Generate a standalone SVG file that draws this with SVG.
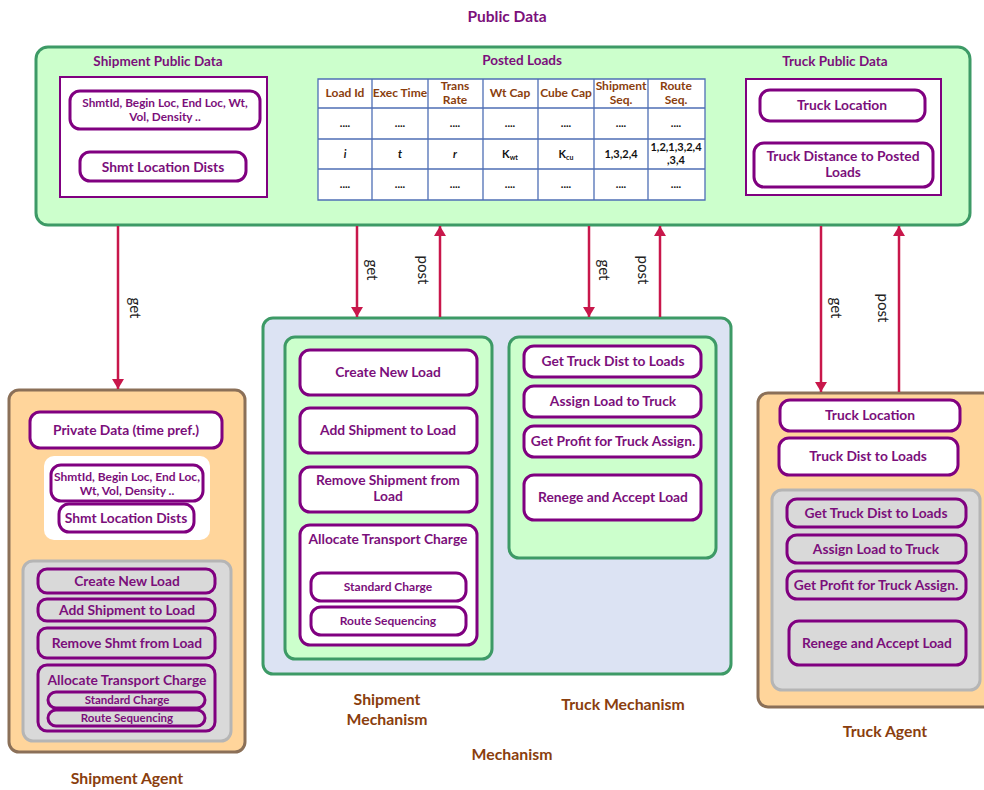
<svg xmlns="http://www.w3.org/2000/svg" width="984" height="790" viewBox="0 0 984 790">
  <defs>
    <marker id="ah" viewBox="0 0 10 12" refX="10" refY="6" markerWidth="10" markerHeight="12" markerUnits="userSpaceOnUse" orient="auto">
      <path d="M0,0 L10,6 L0,12 Z" fill="#c8174b"/>
    </marker>
    <style>
      text { font-family: Lato, "Liberation Sans", sans-serif; font-weight: bold; text-anchor: middle; }
      .t { fill: #7b0f7b; font-size: 13.8px; }
      .ts { fill: #7b0f7b; font-size: 11.8px; }
      .sm { fill: #7b0f7b; font-size: 12px; }
      .tx { fill: #7b0f7b; font-size: 11.5px; }
      .hd { fill: #7b0f7b; font-size: 13.5px; }
      .cap { fill: #8a3e0e; font-size: 15.8px; }
      .th { fill: #8a3e0e; font-size: 12px; }
      .td { fill: #111; font-size: 11px; }
      .lbl { fill: #222; font-size: 15px; font-weight: normal; }
      .pb { fill: #fff; stroke: #800080; stroke-width: 3; }
      .pg { fill: #d9d9d9; stroke: #800080; stroke-width: 3; }
      .gz { fill: #ccffcc; stroke: #3d9a66; stroke-width: 3; }
      .gray { fill: #d9d9d9; stroke: #b5b5b5; stroke-width: 3; }
      .agent { fill: #ffd59b; stroke: #8b7058; stroke-width: 3; }
      .wbox { fill: #fff; stroke: #800080; stroke-width: 2; }
      .grid { stroke: #4f6fb5; stroke-width: 1.3; fill: none; }
      .arr { stroke: #c8174b; stroke-width: 2.5; fill: none; marker-end: url(#ah); }
    </style>
  </defs>

  <rect width="984" height="790" fill="#fff"/>

  <!-- Public data area -->
  <g id="public-data">
    <text x="507" y="22" class="hd" style="font-size:15.5px">Public Data</text>
    <rect x="36" y="47" width="934" height="178" rx="12" class="gz"/>
  </g>

  <g id="shipment-public-data">
    <text x="158" y="66" class="hd">Shipment Public Data</text>
    <rect x="60" y="77" width="207" height="120" class="wbox"/>
    <rect x="70" y="91" width="190" height="38" rx="10" class="pb"/>
    <text x="165" y="107" class="ts">ShmtId, Begin Loc, End Loc, Wt,</text>
    <text x="165" y="121" class="ts">Vol, Density ..</text>
    <rect x="80" y="152" width="166" height="29" rx="10" class="pb"/>
    <text x="163" y="172" class="t">Shmt Location Dists</text>
  </g>

  <g id="posted-loads">
    <text x="522" y="65" class="hd">Posted Loads</text>
    <rect x="318" y="79" width="387" height="121" fill="#fff"/>
    <path class="grid" d="M318,79H705V200H318Z M318,108H705 M318,139H705 M318,169H705 M372,79V200 M428,79V200 M483,79V200 M538,79V200 M594,79V200 M648,79V200"/>
    <text x="345" y="97" class="th">Load Id</text>
    <text x="400" y="97" class="th">Exec Time</text>
    <text x="455" y="90" class="th">Trans</text>
    <text x="455" y="104" class="th">Rate</text>
    <text x="510" y="97" class="th">Wt Cap</text>
    <text x="566" y="97" class="th">Cube Cap</text>
    <text x="621" y="90" class="th">Shipment</text>
    <text x="621" y="104" class="th">Seq.</text>
    <text x="676" y="90" class="th">Route</text>
    <text x="676" y="104" class="th">Seq.</text>
    <text x="345" y="127" class="td">....</text>
    <text x="400" y="127" class="td">....</text>
    <text x="455" y="127" class="td">....</text>
    <text x="510" y="127" class="td">....</text>
    <text x="566" y="127" class="td">....</text>
    <text x="621" y="127" class="td">....</text>
    <text x="676" y="127" class="td">....</text>
    <text x="345" y="158" class="td" font-style="italic">i</text>
    <text x="400" y="158" class="td" font-style="italic">t</text>
    <text x="455" y="158" class="td" font-style="italic">r</text>
    <text x="510" y="158" class="td">K<tspan font-size="7" dy="2">wt</tspan></text>
    <text x="566" y="158" class="td">K<tspan font-size="7" dy="2">cu</tspan></text>
    <text x="621" y="158" class="td">1,3,2,4</text>
    <text x="676" y="151" class="td">1,2,1,3,2,4</text>
    <text x="676" y="164" class="td">,3,4</text>
    <text x="345" y="188" class="td">....</text>
    <text x="400" y="188" class="td">....</text>
    <text x="455" y="188" class="td">....</text>
    <text x="510" y="188" class="td">....</text>
    <text x="566" y="188" class="td">....</text>
    <text x="621" y="188" class="td">....</text>
    <text x="676" y="188" class="td">....</text>
  </g>

  <g id="truck-public-data">
    <text x="835" y="66" class="hd">Truck Public Data</text>
    <rect x="746" y="79" width="195" height="116" class="wbox"/>
    <rect x="760" y="90" width="165" height="31" rx="10" class="pb"/>
    <text x="842" y="110" class="t">Truck Location</text>
    <rect x="754" y="143" width="179" height="44" rx="10" class="pb"/>
    <text x="843" y="161" class="t">Truck Distance to Posted</text>
    <text x="843" y="177" class="t">Loads</text>
  </g>

  <!-- Mechanism area -->
  <g id="mechanism">
    <rect x="263" y="318" width="468" height="356" rx="10" fill="#dce3f3" stroke="#3d9a66" stroke-width="3"/>
    <text x="512" y="760" class="cap">Mechanism</text>
  </g>

  <g id="shipment-mechanism">
    <rect x="285" y="337" width="207" height="322" rx="10" class="gz"/>
    <rect x="300" y="350" width="177" height="45" rx="10" class="pb"/>
    <text x="388" y="377" class="t">Create New Load</text>
    <rect x="300" y="408" width="177" height="45" rx="10" class="pb"/>
    <text x="388" y="435" class="t">Add Shipment to Load</text>
    <rect x="300" y="467" width="177" height="45" rx="10" class="pb"/>
    <text x="388" y="485" class="t">Remove Shipment from</text>
    <text x="388" y="501" class="t">Load</text>
    <rect x="300" y="525" width="177" height="120" rx="10" class="pb"/>
    <text x="388" y="544" class="t">Allocate Transport Charge</text>
    <rect x="311" y="573" width="155" height="28" rx="10" class="pb"/>
    <text x="388" y="591" class="sm">Standard Charge</text>
    <rect x="311" y="607" width="155" height="28" rx="10" class="pb"/>
    <text x="388" y="625" class="sm">Route Sequencing</text>
    <text x="387" y="705" class="cap">Shipment</text>
    <text x="387" y="725" class="cap">Mechanism</text>
  </g>

  <g id="truck-mechanism">
    <rect x="509" y="337" width="207" height="221" rx="10" class="gz"/>
    <rect x="524" y="346" width="177" height="31" rx="10" class="pb"/>
    <text x="613" y="366" class="t">Get Truck Dist to Loads</text>
    <rect x="524" y="386" width="177" height="31" rx="10" class="pb"/>
    <text x="613" y="406" class="t">Assign Load to Truck</text>
    <rect x="524" y="426" width="177" height="31" rx="10" class="pb"/>
    <text x="613" y="446" class="t">Get Profit for Truck Assign.</text>
    <rect x="524" y="475" width="177" height="45" rx="10" class="pb"/>
    <text x="613" y="502" class="t">Renege and Accept Load</text>
    <text x="623" y="710" class="cap">Truck Mechanism</text>
  </g>

  <!-- Shipment agent -->
  <g id="shipment-agent">
    <rect x="9" y="390" width="236" height="362" rx="10" class="agent"/>
    <rect x="30" y="412" width="192" height="36" rx="10" class="pb"/>
    <text x="126" y="435" class="t">Private Data (time pref.)</text>
    <rect x="44" y="456" width="166" height="84" rx="10" fill="#fff"/>
    <rect x="51" y="465" width="152" height="36" rx="10" class="pb"/>
    <text x="127" y="481" class="sm">ShmtId, Begin Loc, End Loc,</text>
    <text x="127" y="495" class="sm">Wt, Vol, Density ..</text>
    <rect x="59" y="504" width="135" height="28" rx="10" class="pb"/>
    <text x="126" y="523" class="t">Shmt Location Dists</text>
    <rect x="23" y="561" width="208" height="180" rx="10" class="gray"/>
    <rect x="38" y="569" width="177" height="24" rx="9" class="pg"/>
    <text x="127" y="586" class="t">Create New Load</text>
    <rect x="38" y="599" width="177" height="22" rx="9" class="pg"/>
    <text x="127" y="615" class="t">Add Shipment to Load</text>
    <rect x="38" y="628" width="177" height="30" rx="9" class="pg"/>
    <text x="127" y="648" class="t">Remove Shmt from Load</text>
    <rect x="38" y="665" width="177" height="66" rx="9" class="pg"/>
    <text x="127" y="685" class="t">Allocate Transport Charge</text>
    <rect x="48" y="692" width="157" height="16" rx="8" class="pg"/>
    <text x="127" y="704" class="tx">Standard Charge</text>
    <rect x="48" y="710" width="157" height="16" rx="8" class="pg"/>
    <text x="127" y="722" class="tx">Route Sequencing</text>
    <text x="127" y="784" class="cap">Shipment Agent</text>
  </g>

  <!-- Truck agent -->
  <g id="truck-agent">
    <rect x="758" y="393" width="240" height="314" rx="10" class="agent"/>
    <rect x="780" y="400" width="180" height="31" rx="10" class="pb"/>
    <text x="870" y="420" class="t">Truck Location</text>
    <rect x="779" y="438" width="179" height="37" rx="10" class="pb"/>
    <text x="868" y="461" class="t">Truck Dist to Loads</text>
    <rect x="772" y="490" width="208" height="200" rx="10" class="gray"/>
    <rect x="787" y="499" width="179" height="28" rx="10" class="pg"/>
    <text x="876" y="518" class="t">Get Truck Dist to Loads</text>
    <rect x="787" y="535" width="179" height="28" rx="10" class="pg"/>
    <text x="876" y="554" class="t">Assign Load to Truck</text>
    <rect x="787" y="571" width="179" height="28" rx="10" class="pg"/>
    <text x="876" y="590" class="t">Get Profit for Truck Assign.</text>
    <rect x="789" y="621" width="177" height="44" rx="10" class="pg"/>
    <text x="877" y="648" class="t">Renege and Accept Load</text>
    <text x="885" y="737" class="cap">Truck Agent</text>
  </g>

  <!-- get / post connectors -->
  <g id="connectors">
    <line x1="118" y1="226" x2="118" y2="389" class="arr"/>
    <line x1="357" y1="226" x2="357" y2="317" class="arr"/>
    <line x1="440" y1="317" x2="440" y2="226" class="arr"/>
    <line x1="589" y1="226" x2="589" y2="317" class="arr"/>
    <line x1="660" y1="317" x2="660" y2="226" class="arr"/>
    <line x1="821" y1="226" x2="821" y2="392" class="arr"/>
    <line x1="899" y1="392" x2="899" y2="226" class="arr"/>
    <text class="lbl" transform="translate(130,308) rotate(90)">get</text>
    <text class="lbl" transform="translate(367,270) rotate(90)">get</text>
    <text class="lbl" transform="translate(418,270) rotate(90)">post</text>
    <text class="lbl" transform="translate(599,270) rotate(90)">get</text>
    <text class="lbl" transform="translate(638,270) rotate(90)">post</text>
    <text class="lbl" transform="translate(831,308) rotate(90)">get</text>
    <text class="lbl" transform="translate(878,308) rotate(90)">post</text>
  </g>
</svg>
